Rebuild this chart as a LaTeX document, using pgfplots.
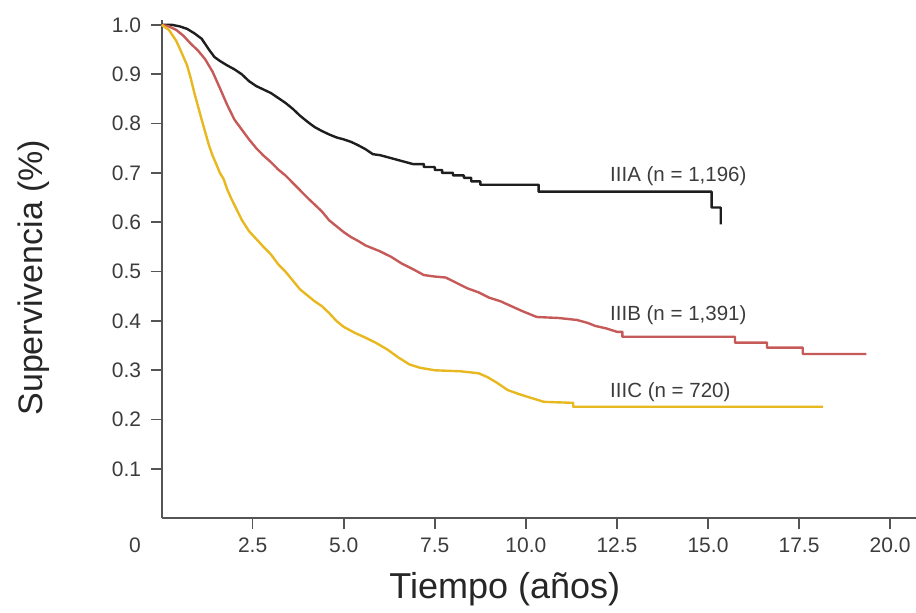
\documentclass[border=0pt]{standalone}
\usepackage{fontspec}
\setmainfont{Liberation Sans}
\usepackage{pgfplots}
\pgfplotsset{compat=1.18}
\definecolor{axisgray}{HTML}{555555}
\definecolor{labelgray}{HTML}{3C3C3C}
\definecolor{cA}{HTML}{1E1E1E}
\definecolor{cB}{HTML}{C65A58}
\definecolor{cC}{HTML}{E8B820}
\begin{document}
\begin{tikzpicture}
\begin{axis}[
  scale only axis,
  width=754.4pt, height=498.3pt,
  xmin=0, xmax=20.71, ymin=0, ymax=1.010,
  axis x line*=bottom, axis y line*=left,
  axis line style={draw=axisgray, line width=2pt},
  tick style={draw=axisgray, line width=1.6pt},
  tick align=outside,
  major tick length=11pt,
  xtick={2.5,5,7.5,10,12.5,15,17.5,20},
  xticklabels={2.5,5.0,7.5,10.0,12.5,15.0,17.5,20.0},
  ytick={0.1,0.2,0.3,0.4,0.5,0.6,0.7,0.8,0.9,1.0},
  yticklabels={0.1,0.2,0.3,0.4,0.5,0.6,0.7,0.8,0.9,1.0},
  ticklabel style={font=\fontsize{21}{24}\selectfont, text=labelgray},
  xticklabel style={yshift=-5pt},
  yticklabel style={xshift=-6pt},
  /pgf/number format/assume math mode=true,
  xlabel={Tiempo (años)},
  ylabel={Supervivencia (\%)},
  xlabel style={at={(axis description cs:0.455,0)}, anchor=center, yshift=-71pt, font=\fontsize{36}{40}\selectfont, text=black!85},
  ylabel style={at={(axis description cs:0,0.483)}, anchor=center, yshift=128pt, font=\fontsize{34}{38}\selectfont, text=black!85},
  clip=false,
  line join=round,
]
\addplot[draw=cA, line width=2.4pt] coordinates {
(0,1.0) (0.3,1.0) (0.5,0.997) (0.7,0.992) (0.9,0.983) (1.1,0.972) (1.3,0.950)
(1.45,0.935) (1.6,0.927) (1.8,0.918) (2.0,0.910) (2.2,0.900) (2.4,0.886)
(2.6,0.876) (2.8,0.869) (3.0,0.862) (3.2,0.852) (3.4,0.842) (3.6,0.830)
(3.8,0.816) (4.0,0.804) (4.2,0.793) (4.4,0.785) (4.6,0.778) (4.8,0.772)
(5.0,0.768) (5.2,0.763) (5.4,0.756) (5.6,0.748) (5.8,0.738) (6.0,0.736)
(6.3,0.730) (6.6,0.724) (6.9,0.718) (7.2,0.718) (7.2,0.712) (7.5,0.712)
(7.5,0.706) (7.7,0.706) (7.7,0.700) (8.0,0.700) (8.0,0.695) (8.3,0.695)
(8.3,0.690) (8.5,0.690) (8.5,0.683) (8.75,0.683) (8.75,0.676) (10.35,0.676)
(10.35,0.662) (15.1,0.662) (15.1,0.630) (15.35,0.630) (15.35,0.596)
};
\addplot[draw=cB, line width=2.4pt] coordinates {
(0,1.0) (0.2,0.997) (0.4,0.99) (0.6,0.978) (0.8,0.962) (1.0,0.948) (1.2,0.930)
(1.4,0.905) (1.6,0.872) (1.8,0.838) (2.0,0.808) (2.2,0.788) (2.4,0.768)
(2.6,0.750) (2.8,0.735) (3.0,0.722) (3.2,0.707) (3.4,0.695) (3.6,0.680)
(3.8,0.665) (4.0,0.650) (4.2,0.636) (4.4,0.622) (4.6,0.604) (4.8,0.592)
(5.0,0.580) (5.2,0.570) (5.4,0.562) (5.6,0.553) (5.8,0.547) (6.0,0.541)
(6.3,0.530) (6.6,0.516) (6.9,0.505) (7.2,0.493) (7.5,0.490) (7.8,0.488)
(8.1,0.477) (8.4,0.466) (8.7,0.458) (9.0,0.447) (9.3,0.440) (9.6,0.430)
(9.9,0.420) (10.3,0.408) (10.9,0.406) (11.4,0.402) (11.7,0.396) (11.9,0.390)
(12.2,0.385) (12.5,0.378) (12.65,0.378) (12.65,0.368) (15.74,0.368)
(15.74,0.356) (16.62,0.356) (16.62,0.346) (17.6,0.346) (17.6,0.333) (19.35,0.333)
};
\addplot[draw=cC, line width=2.4pt] coordinates {
(0,1.0) (0.2,0.99) (0.4,0.968) (0.5,0.952) (0.6,0.935) (0.7,0.918) (0.8,0.892)
(0.9,0.862) (1.0,0.835) (1.1,0.808) (1.2,0.782) (1.3,0.756) (1.4,0.735)
(1.5,0.718) (1.6,0.700) (1.7,0.688) (1.8,0.667) (1.9,0.650) (2.0,0.635)
(2.1,0.620) (2.2,0.605) (2.4,0.582) (2.6,0.566) (2.8,0.550) (3.0,0.535)
(3.2,0.515) (3.4,0.500) (3.6,0.482) (3.8,0.464) (4.0,0.452) (4.2,0.440)
(4.4,0.430) (4.6,0.416) (4.8,0.400) (5.0,0.388) (5.3,0.376) (5.6,0.366)
(5.9,0.355) (6.2,0.342) (6.5,0.326) (6.8,0.312) (7.1,0.305) (7.5,0.300)
(8.2,0.298) (8.7,0.294) (8.95,0.286) (9.2,0.275) (9.5,0.260) (9.8,0.252)
(10.1,0.245) (10.5,0.236) (11.3,0.234) (11.3,0.226) (18.16,0.226)
};
\node[anchor=west, font=\fontsize{20.5}{23}\selectfont, text=labelgray, inner sep=0pt] at (axis cs:12.31,0.694) {IIIA (n = 1,196)};
\node[anchor=west, font=\fontsize{20.5}{23}\selectfont, text=labelgray, inner sep=0pt] at (axis cs:12.31,0.412) {IIIB (n = 1,391)};
\node[anchor=west, font=\fontsize{20.5}{23}\selectfont, text=labelgray, inner sep=0pt] at (axis cs:12.31,0.256) {IIIC (n = 720)};
\node[font=\fontsize{21}{24}\selectfont, text=labelgray] at (axis cs:0,0) [xshift=-26.6pt, yshift=-26.7pt] {0};
\end{axis}
\pgfresetboundingbox
\path[use as bounding box] (-161.6pt,-94.7pt) rectangle (754.4pt,518.3pt);
\end{tikzpicture}
\end{document}
